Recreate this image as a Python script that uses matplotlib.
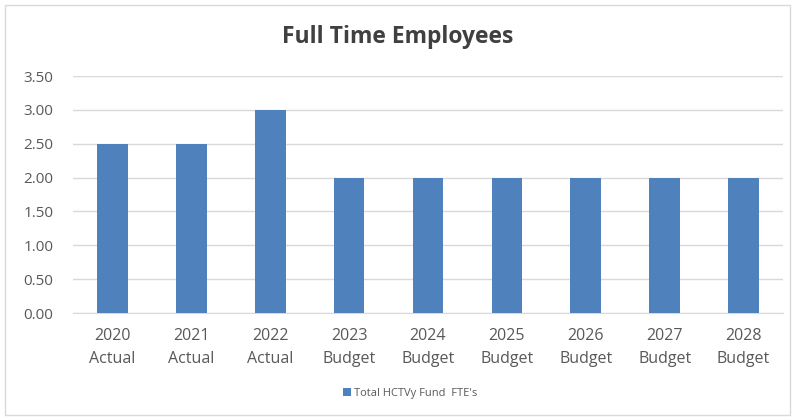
import matplotlib
matplotlib.use("Agg")
import matplotlib.pyplot as plt
from matplotlib.patches import Rectangle

years = ["2020", "2021", "2022", "2023", "2024", "2025", "2026", "2027", "2028"]
kinds = ["Actual", "Actual", "Actual", "Budget", "Budget", "Budget", "Budget", "Budget", "Budget"]
fte = [2.5, 2.5, 3.0, 2.0, 2.0, 2.0, 2.0, 2.0, 2.0]
yticks = [0.0, 0.5, 1.0, 1.5, 2.0, 2.5, 3.0, 3.5]

plt.rcParams["font.family"] = ["Open Sans", "DejaVu Sans"]
text_color = "#595959"
bar_color = "#4F81BD"

fig = plt.figure(figsize=(7.96, 4.19), dpi=100)
fig.patches.append(Rectangle((5 / 796, 4 / 419), 785 / 796, 410 / 419,
                             transform=fig.transFigure, fill=False,
                             edgecolor="#D9D9D9", linewidth=1.0))

ax = fig.add_axes([73 / 796, (419 - 313) / 419, 710 / 796, (313 - 76) / 419])
labels = [f"{y}\n{k}" for y, k in zip(years, kinds)]
x = list(range(len(years)))
ax.bar(x, fte, width=0.39, color=bar_color, label="Total HCTVy Fund  FTE's", zorder=3)

ax.set_xlim(-0.5, len(years) - 0.5)
ax.set_ylim(0, 3.5)
ax.set_yticks(yticks)
ax.set_yticklabels([f"{v:.2f}" for v in yticks], fontsize=11)
ax.set_xticks(x)
ax.set_xticklabels(labels, linespacing=1.55, fontsize=11.5)
ax.grid(axis="y", color="#D9D9D9", linewidth=1.0, zorder=0)
for s in ["top", "right", "left"]:
    ax.spines[s].set_visible(False)
ax.spines["bottom"].set_color("#D9D9D9")
ax.tick_params(axis="both", length=0, colors=text_color)
ax.tick_params(axis="y", pad=14)
ax.tick_params(axis="x", pad=11)

fig.text(0.5, 1 - 37 / 419, "Full Time Employees", ha="center", va="center",
         fontsize=16.5, fontweight="bold", color="#404040")

fig.legend(loc="center", bbox_to_anchor=(0.515, (419 - 393) / 419),
           frameon=False, fontsize=8, handlelength=0.7, handleheight=0.7,
           handletextpad=0.3, labelcolor=text_color)

fig.savefig("out.png", dpi=100)
